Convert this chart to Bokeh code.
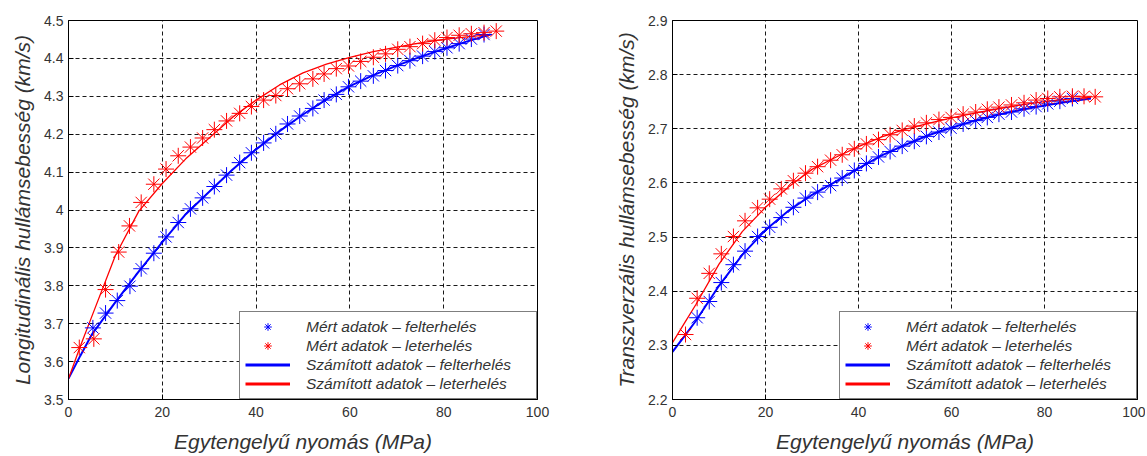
from bokeh.plotting import figure
from bokeh.layouts import row
from bokeh.models import Legend, LegendItem, FixedTicker, CustomJSTickFormatter
from bokeh.embed import file_html
from bokeh.resources import INLINE

# ---------------- data: left panel (longitudinal) ----------------
L_up_x = [5.2, 7.9, 10.4, 13.1, 15.5, 18.2, 20.8, 23.4, 26.0, 28.6, 31.1, 33.7, 36.5, 39.0,
          41.6, 44.2, 46.7, 49.3, 52.1, 54.5, 57.1, 59.7, 62.3, 65.0, 67.6, 70.2, 72.8, 75.5,
          78.1, 80.7, 83.3, 85.9, 88.6]
L_up_y = [3.689, 3.728, 3.761, 3.799, 3.845, 3.886, 3.929, 3.967, 4.003, 4.032, 4.062, 4.092,
          4.125, 4.151, 4.177, 4.201, 4.227, 4.248, 4.268, 4.290, 4.305, 4.325, 4.340, 4.354,
          4.368, 4.381, 4.394, 4.406, 4.418, 4.428, 4.439, 4.451, 4.463]
L_dn_x = [2.3, 5.4, 7.9, 10.7, 13.0, 15.5, 18.2, 20.8, 23.4, 26.0, 28.6, 31.1, 33.7, 36.5, 39.0,
          41.6, 44.2, 46.7, 49.3, 52.1, 54.5, 57.1, 59.7, 62.3, 65.0, 67.6, 70.2, 72.8, 75.5,
          78.1, 80.7, 83.3, 85.9, 88.6, 91.2]
L_dn_y = [3.637, 3.660, 3.790, 3.889, 3.958, 4.020, 4.068, 4.108, 4.143, 4.166, 4.190, 4.212,
          4.235, 4.255, 4.273, 4.290, 4.302, 4.320, 4.333, 4.346, 4.359, 4.373, 4.380, 4.392,
          4.403, 4.412, 4.424, 4.431, 4.439, 4.448, 4.455, 4.461, 4.465, 4.468, 4.472]
L_calc_x = [0, 2.5, 5, 10, 15, 20, 25, 30, 35, 40, 45, 50, 55, 60, 65, 70, 75, 80, 85, 90]
L_calc_up = [3.555, 3.615, 3.672, 3.757, 3.838, 3.915, 3.989, 4.048, 4.107, 4.160, 4.208,
             4.252, 4.292, 4.327, 4.356, 4.381, 4.404, 4.425, 4.445, 4.463]
L_calc_dn = [3.555, 3.640, 3.720, 3.880, 3.997, 4.070, 4.135, 4.190, 4.245, 4.290, 4.330,
             4.362, 4.385, 4.403, 4.418, 4.430, 4.441, 4.450, 4.457, 4.463]

# ---------------- data: right panel (transversal) ----------------
T_up_x = [5.3, 7.9, 10.5, 13.1, 15.6, 18.3, 20.9, 23.4, 26.0, 28.6, 31.2, 34.0, 36.5, 39.1,
          41.7, 44.3, 46.8, 49.4, 52.0, 54.6, 57.3, 59.9, 62.5, 65.2, 67.7, 70.2, 72.9, 75.6,
          78.2, 80.7, 83.3, 86.0]
T_up_y = [2.351, 2.381, 2.416, 2.449, 2.474, 2.501, 2.518, 2.536, 2.555, 2.572, 2.583, 2.595,
          2.609, 2.623, 2.636, 2.648, 2.658, 2.668, 2.677, 2.686, 2.694, 2.701, 2.709, 2.715,
          2.721, 2.727, 2.731, 2.737, 2.741, 2.746, 2.751, 2.756]
T_dn_x = [2.8, 5.3, 7.9, 10.5, 13.1, 15.6, 18.3, 20.9, 23.4, 26.0, 28.6, 31.2, 34.0, 36.5, 39.1,
          41.7, 44.3, 46.8, 49.4, 52.0, 54.6, 57.3, 59.9, 62.5, 65.2, 67.7, 70.2, 72.9, 75.6,
          78.2, 80.7, 83.3, 86.0, 88.5, 90.9]
T_dn_y = [2.320, 2.387, 2.433, 2.469, 2.501, 2.530, 2.554, 2.570, 2.589, 2.604, 2.618, 2.630,
          2.642, 2.652, 2.663, 2.672, 2.680, 2.689, 2.697, 2.705, 2.711, 2.717, 2.721, 2.727,
          2.731, 2.736, 2.740, 2.744, 2.748, 2.753, 2.756, 2.759, 2.760, 2.760, 2.759]
T_calc_x = [0, 2.5, 5, 10, 15, 20, 25, 30, 35, 40, 45, 50, 55, 60, 65, 70, 75, 80, 85, 90]
T_calc_up = [2.288, 2.316, 2.345, 2.410, 2.467, 2.513, 2.549, 2.578, 2.602, 2.627, 2.651,
             2.670, 2.688, 2.702, 2.715, 2.726, 2.735, 2.743, 2.750, 2.756]
T_calc_dn = [2.305, 2.340, 2.375, 2.450, 2.510, 2.555, 2.593, 2.625, 2.647, 2.667, 2.685,
             2.699, 2.710, 2.720, 2.729, 2.737, 2.744, 2.750, 2.755, 2.758]

x_ticks = [0, 20, 40, 60, 80, 100]
L_yticks = [3.5, 3.6, 3.7, 3.8, 3.9, 4.0, 4.1, 4.2, 4.3, 4.4, 4.5]
T_yticks = [2.2, 2.3, 2.4, 2.5, 2.6, 2.7, 2.8, 2.9]

x_label = "Egytengelyű nyomás (MPa)"
L_ylabel = "Longitudinális hullámsebesség (km/s)"
T_ylabel = "Transzverzális hullámsebesség (km/s)"
legend_labels = ["Mért adatok – felterhelés", "Mért adatok – leterhelés",
                 "Számított adatok – felterhelés", "Számított adatok – leterhelés"]

FONT = "Liberation Sans"
BLUE = "#0000ff"
RED = "#ff0000"
TXT = "#333333"
NAN = float("nan")


def make_panel(width, bl, br, yr, yticks, ylabel, upx, upy, dnx, dny, cx, cup, cdn):
    p = figure(width=width, height=455, x_range=(0, 100), y_range=yr,
               output_backend="svg", toolbar_location=None,
               min_border_left=bl, min_border_right=br, min_border_top=20,
               min_border_bottom=51)
    p.background_fill_color = "white"
    p.border_fill_color = "white"
    p.outline_line_color = "black"
    p.outline_line_width = 1

    for g in (p.xgrid, p.ygrid):
        g.grid_line_color = "black"
        g.grid_line_dash = "4 3"
        g.grid_line_width = 1
        g.grid_line_alpha = 0.9
    p.xgrid.ticker = FixedTicker(ticks=x_ticks)
    p.ygrid.ticker = FixedTicker(ticks=yticks)

    p.xaxis.ticker = FixedTicker(ticks=x_ticks)
    p.yaxis.ticker = FixedTicker(ticks=yticks)
    p.yaxis.formatter = CustomJSTickFormatter(code="return tick.toFixed(1).replace(/\\.0$/, '');")
    p.xaxis.formatter = CustomJSTickFormatter(code="return tick.toFixed(0);")

    for ax in (p.xaxis, p.yaxis):
        ax.axis_line_color = "black"
        ax.major_tick_in = 5
        ax.major_tick_out = 0
        ax.minor_tick_line_color = None
        ax.major_tick_line_color = "black"
        ax.major_label_text_font = FONT
        ax.major_label_text_font_size = "14px"
        ax.major_label_text_color = TXT
        ax.axis_label_text_font = FONT
        ax.axis_label_text_font_size = "21px"
        ax.axis_label_text_font_style = "italic"
        ax.axis_label_text_color = TXT
    p.xaxis.major_label_standoff = 7
    p.yaxis.major_label_standoff = 5
    p.xaxis.axis_label = x_label
    p.yaxis.axis_label = ylabel
    p.xaxis.axis_label_standoff = 10
    p.yaxis.axis_label_standoff = 7

    p.line(cx, cup, line_color=BLUE, line_width=2)
    p.line(cx, cdn, line_color=RED, line_width=1.3)
    r_up = p.scatter(upx, upy, marker="asterisk", size=16, line_color=BLUE, line_width=1)
    r_dn = p.scatter(dnx, dny, marker="asterisk", size=16, line_color=RED, line_width=1)

    # legend-only line samples (nothing drawn in the plot area)
    l_cup = p.line([NAN, NAN], [NAN, NAN], line_color=BLUE, line_width=3)
    l_cdn = p.line([NAN, NAN], [NAN, NAN], line_color=RED, line_width=3)

    legend = Legend(items=[
        LegendItem(label=legend_labels[0], renderers=[r_up]),
        LegendItem(label=legend_labels[1], renderers=[r_dn]),
        LegendItem(label=legend_labels[2], renderers=[l_cup]),
        LegendItem(label=legend_labels[3], renderers=[l_cdn]),
    ], location="bottom_right")
    legend.margin = 0
    legend.padding = 5
    legend.spacing = 0
    legend.label_height = 19
    legend.glyph_height = 19
    legend.glyph_width = 45
    legend.label_standoff = 16
    legend.label_width = 225
    legend.label_text_font = FONT
    legend.label_text_font_size = "15.5px"
    legend.label_text_font_style = "italic"
    legend.label_text_color = TXT
    legend.border_line_color = "black"
    legend.border_line_width = 1
    legend.background_fill_color = "white"
    legend.background_fill_alpha = 1
    p.add_layout(legend, "center")
    return p


p1 = make_panel(588, 68, 51, (3.5, 4.5), L_yticks, L_ylabel,
                L_up_x, L_up_y, L_dn_x, L_dn_y, L_calc_x, L_calc_up, L_calc_dn)
p2 = make_panel(557, 84, 8, (2.2, 2.9), T_yticks, T_ylabel,
                T_up_x, T_up_y, T_dn_x, T_dn_y, T_calc_x, T_calc_up, T_calc_dn)

layout = row(p1, p2)
open("out.html", "w").write(file_html(layout, INLINE))
